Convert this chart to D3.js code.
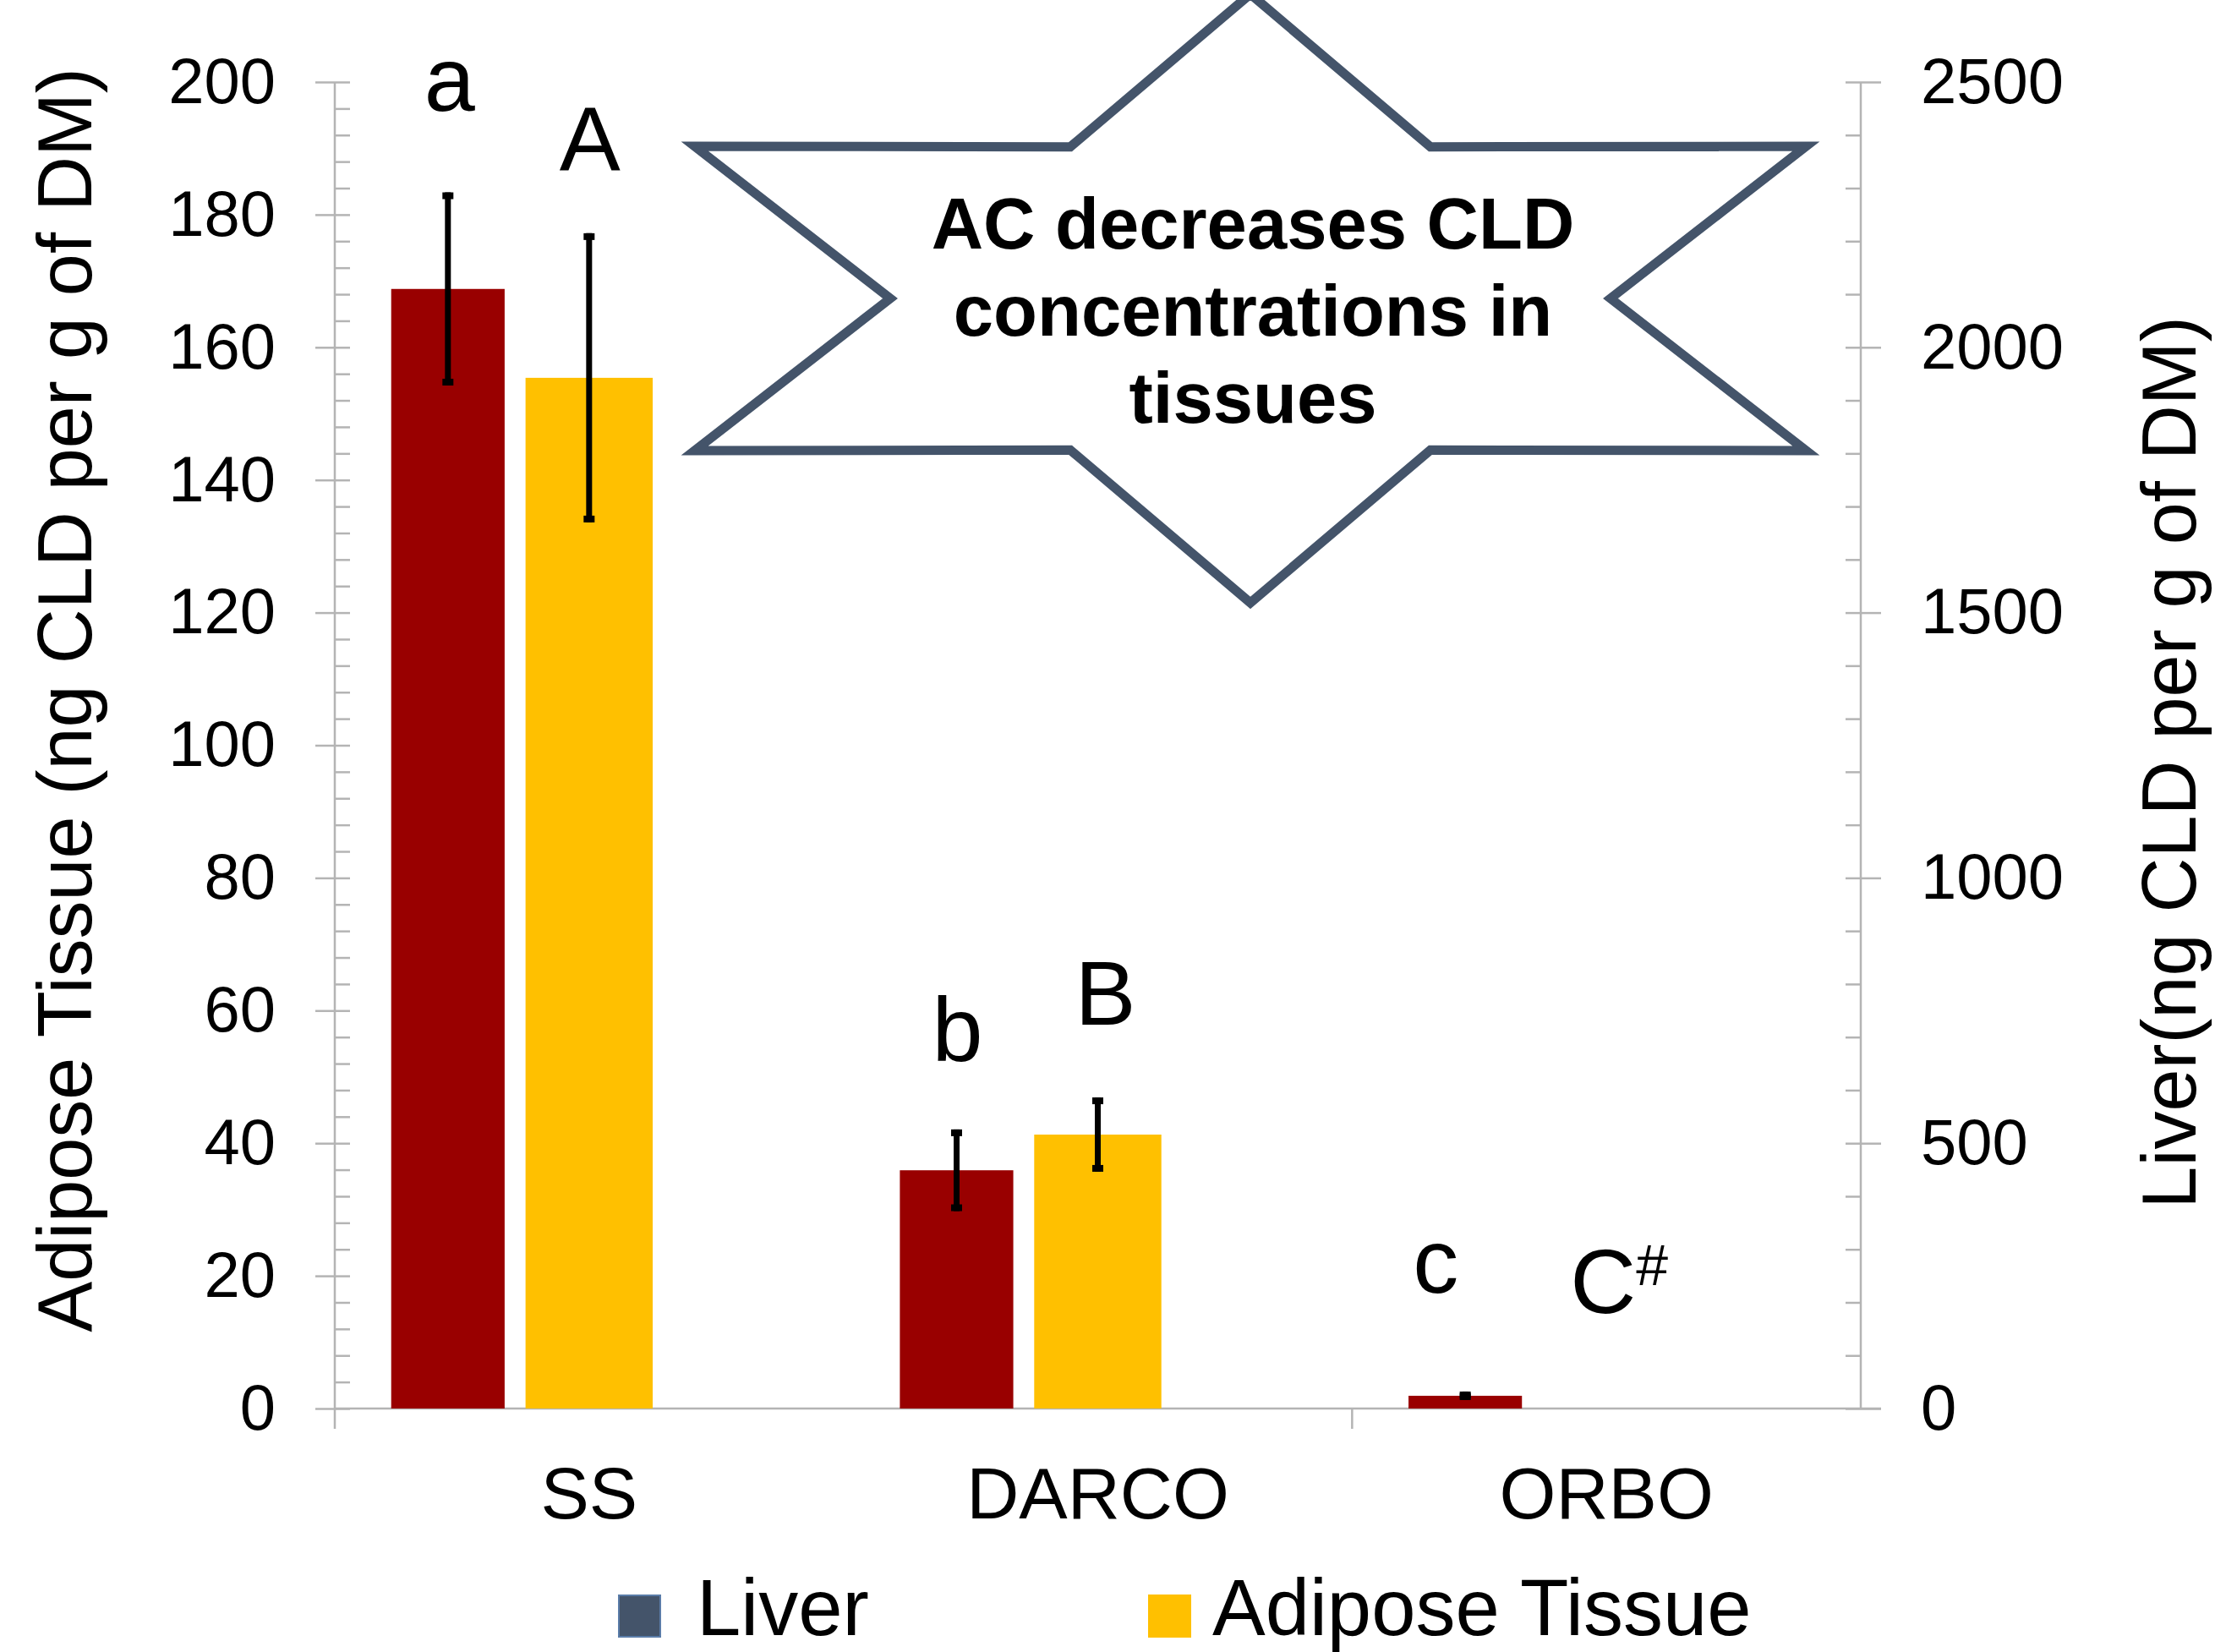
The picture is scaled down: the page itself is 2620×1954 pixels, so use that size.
<!DOCTYPE html>
<html>
<head>
<meta charset="utf-8">
<script src="https://cdn.jsdelivr.net/npm/d3@7"></script>
<style>
  body { margin: 0; background: #fff; }
  text { font-family: "Liberation Sans", Arial, sans-serif; fill: #000; }
</style>
</head>
<body>
<div id="chart"></div>
<script>
// data
let categories = ["SS", "DARCO", "ORBO"]
let liverMean = [2110, 449, 24]        // right axis, ng CLD / g DM
let liverErr = [182, 77, 8]
let adiposeMean = [155.4, 41.3, 0]     // left axis, ng CLD / g DM
let adiposeErr = [21.8, 5.6, 0]
let leftTicks = [0, 20, 40, 60, 80, 100, 120, 140, 160, 180, 200]
let rightTicks = [0, 500, 1000, 1500, 2000, 2500]
// significance letters, placed at a left-axis level
let liverLetters = ["a", "b", "c"]
let liverLetterAt = [195.7, 52.4, 17.5]
let adiposeLetters = ["A", "B", "C"]
let adiposeLetterAt = [186.6, 57.9, 14.4]
let starLines = ["AC decreases CLD", "concentrations in", "tissues"]

function drawChart(){
    let width = 2620
    let height = 1954
    let left = 396, right = 2201, top = 97, bottom = 1666
    let axisColour = "#b4b4b4"
    let liverColour = "#990000"
    let adiposeColour = "#ffc000"

    let svg = d3.select("#chart")
        .append("svg")
            .attr("width", width)
            .attr("height", height)

    let x = d3.scaleBand()
        .domain(categories)
        .range([left, right])
    let yLeft = d3.scaleLinear()
        .domain([0, 200])
        .range([bottom, top])
    let yRight = d3.scaleLinear()
        .domain([0, 2500])
        .range([bottom, top])
    let bw = x.bandwidth()
    let liverOffset = -0.2776 * bw
    let liverWidth = 0.223 * bw
    let adiposeWidth = 0.25 * bw

    // left axis: labels + major ticks, then minor ticks inside
    let leftAxis = svg.append("g")
        .attr("transform", "translate(" + left + ",0)")
        .call(d3.axisLeft(yLeft).tickValues(leftTicks).tickSize(23).tickSizeOuter(0).tickPadding(47).tickFormat(d3.format("d")))
    leftAxis.append("g")
        .call(d3.axisRight(yLeft).tickValues(d3.range(0, 201, 4)).tickSize(18).tickSizeOuter(0).tickFormat(""))

    let rightAxis = svg.append("g")
        .attr("transform", "translate(" + right + ",0)")
        .call(d3.axisRight(yRight).tickValues(rightTicks).tickSize(24).tickSizeOuter(0).tickPadding(47).tickFormat(d3.format("d")))
    rightAxis.append("g")
        .call(d3.axisLeft(yRight).tickValues(d3.range(0, 2501, 100)).tickSize(18).tickSizeOuter(0).tickFormat(""))

    svg.selectAll(".domain").remove()
    svg.selectAll(".tick line")
        .attr("stroke", axisColour)
        .attr("stroke-width", 2.5)
    svg.selectAll(".tick text")
        .attr("font-size", 76)
        .attr("font-family", "Liberation Sans, Arial, sans-serif")
        .attr("fill", "#000")

    // axis lines
    svg.append("line")
        .attr("x1", left).attr("x2", left)
        .attr("y1", top).attr("y2", bottom + 24)
        .attr("stroke", axisColour).attr("stroke-width", 2.5)
    svg.append("line")
        .attr("x1", right).attr("x2", right)
        .attr("y1", top).attr("y2", bottom)
        .attr("stroke", axisColour).attr("stroke-width", 2.5)
    svg.append("line")
        .attr("x1", left).attr("x2", right + 24)
        .attr("y1", bottom).attr("y2", bottom)
        .attr("stroke", axisColour).attr("stroke-width", 2.5)
    // category divider tick (only between DARCO and ORBO in the original)
    svg.append("line")
        .attr("x1", x("ORBO")).attr("x2", x("ORBO"))
        .attr("y1", bottom).attr("y2", bottom + 24)
        .attr("stroke", axisColour).attr("stroke-width", 2.5)

    // category labels
    svg.selectAll(".catLabel")
        .data(categories)
        .enter()
        .append("text")
            .attr("class", "catLabel")
            .attr("x", d => x(d) + bw / 2)
            .attr("y", 1796)
            .attr("text-anchor", "middle")
            .attr("font-size", 86)
            .text(d => d)

    // bars
    svg.selectAll(".liverBar")
        .data(liverMean)
        .enter()
        .append("rect")
            .attr("class", "liverBar")
            .attr("x", (d, i) => x(categories[i]) + bw / 2 + liverOffset - liverWidth / 2)
            .attr("width", liverWidth)
            .attr("y", d => yRight(d))
            .attr("height", d => bottom - yRight(d))
            .attr("fill", liverColour)

    svg.selectAll(".adiposeBar")
        .data(adiposeMean)
        .enter()
        .append("rect")
            .attr("class", "adiposeBar")
            .attr("x", (d, i) => x(categories[i]) + bw / 2 - adiposeWidth / 2)
            .attr("width", adiposeWidth)
            .attr("y", d => yLeft(d))
            .attr("height", d => bottom - yLeft(d))
            .attr("fill", adiposeColour)

    // error bars
    function errorBars(means, errs, scale, offset, cls){
        let rows = means.map((m, i) => ({m: m, e: errs[i], cx: x(categories[i]) + bw / 2 + offset}))
            .filter(d => d.e > 0)
        let g = svg.selectAll("." + cls)
            .data(rows)
            .enter()
            .append("g")
                .attr("class", cls)
        g.append("line")
            .attr("x1", d => d.cx).attr("x2", d => d.cx)
            .attr("y1", d => scale(d.m + d.e))
            .attr("y2", d => scale(d.m - d.e))
            .attr("stroke", "#000")
            .attr("stroke-width", 7)
        g.append("rect")
            .attr("x", d => d.cx - 6.5)
            .attr("y", d => scale(d.m + d.e))
            .attr("width", 13).attr("height", 8)
            .attr("fill", "#000")
        g.append("rect")
            .attr("x", d => d.cx - 6.5)
            .attr("y", d => scale(d.m - d.e) - 8)
            .attr("width", 13).attr("height", 8)
            .attr("fill", "#000")
    }
    errorBars(liverMean, liverErr, yRight, liverOffset, "liverErr")
    errorBars(adiposeMean, adiposeErr, yLeft, 0, "adiposeErr")

    // significance letters
    let liverNudge = [2, 1, -35]
    svg.selectAll(".liverLetter")
        .data(liverLetters)
        .enter()
        .append("text")
            .attr("class", "liverLetter")
            .attr("x", (d, i) => x(categories[i]) + bw / 2 + liverOffset + liverNudge[i])
            .attr("y", (d, i) => yLeft(liverLetterAt[i]))
            .attr("text-anchor", "middle")
            .attr("font-size", 108)
            .text(d => d)

    let adiposeNudge = [1, 9, 15]
    let adLetters = svg.selectAll(".adiposeLetter")
        .data(adiposeLetters)
        .enter()
        .append("text")
            .attr("class", "adiposeLetter")
            .attr("x", (d, i) => x(categories[i]) + bw / 2 + adiposeNudge[i])
            .attr("y", (d, i) => yLeft(adiposeLetterAt[i]))
            .attr("text-anchor", "middle")
            .attr("font-size", 108)
    adLetters.append("tspan").text(d => d)
    adLetters.filter((d, i) => adiposeMean[i] == 0)
        .append("tspan")
            .attr("font-size", 68)
            .attr("dy", -33)
            .text("#")

    // axis titles
    svg.append("text")
        .attr("transform", "translate(108," + 828 + ") rotate(-90)")
        .attr("text-anchor", "middle")
        .attr("font-size", 90)
        .text("Adipose Tissue (ng CLD per g of DM)")
    svg.append("text")
        .attr("transform", "translate(2597," + 902 + ") rotate(-90)")
        .attr("text-anchor", "middle")
        .attr("font-size", 90)
        .text("Liver(ng CLD per g of DM)")

    // star callout
    let cx = 1479, cy = 353
    let starPts = d3.range(12).map(function(k){
        let a = Math.PI / 2 - k * Math.PI / 6
        let outer = k % 2 == 0
        let rx = outer ? 759 : 426
        let ry = outer ? 360 : 207
        return [cx + rx * Math.cos(a), cy - ry * Math.sin(a)]
    })
    svg.append("path")
        .attr("d", d3.line()(starPts) + "Z")
        .attr("fill", "#fff")
        .attr("stroke", "#44546a")
        .attr("stroke-width", 11)
        .attr("stroke-linejoin", "miter")
        .attr("stroke-miterlimit", 10)

    svg.selectAll(".starLine")
        .data(starLines)
        .enter()
        .append("text")
            .attr("class", "starLine")
            .attr("x", 1482)
            .attr("y", (d, i) => 294 + i * 103)
            .attr("text-anchor", "middle")
            .attr("font-size", 85)
            .attr("font-weight", "bold")
            .text(d => d)

    // legend
    let legend = [
        {name: "Liver", swatch: "#44546a", border: "#5a7ca8", sx: 732, tx: 824},
        {name: "Adipose Tissue", swatch: adiposeColour, border: adiposeColour, sx: 1359, tx: 1434}
    ]
    let lg = svg.selectAll(".legendItem")
        .data(legend)
        .enter()
        .append("g")
            .attr("class", "legendItem")
    lg.append("rect")
        .attr("x", d => d.sx)
        .attr("y", 1887)
        .attr("width", 49).attr("height", 49)
        .attr("fill", d => d.swatch)
        .attr("stroke", d => d.border)
        .attr("stroke-width", 2)
    lg.append("text")
        .attr("x", d => d.tx)
        .attr("y", 1934)
        .attr("font-size", 94)
        .text(d => d.name)
}
drawChart()
</script>
</body>
</html>
